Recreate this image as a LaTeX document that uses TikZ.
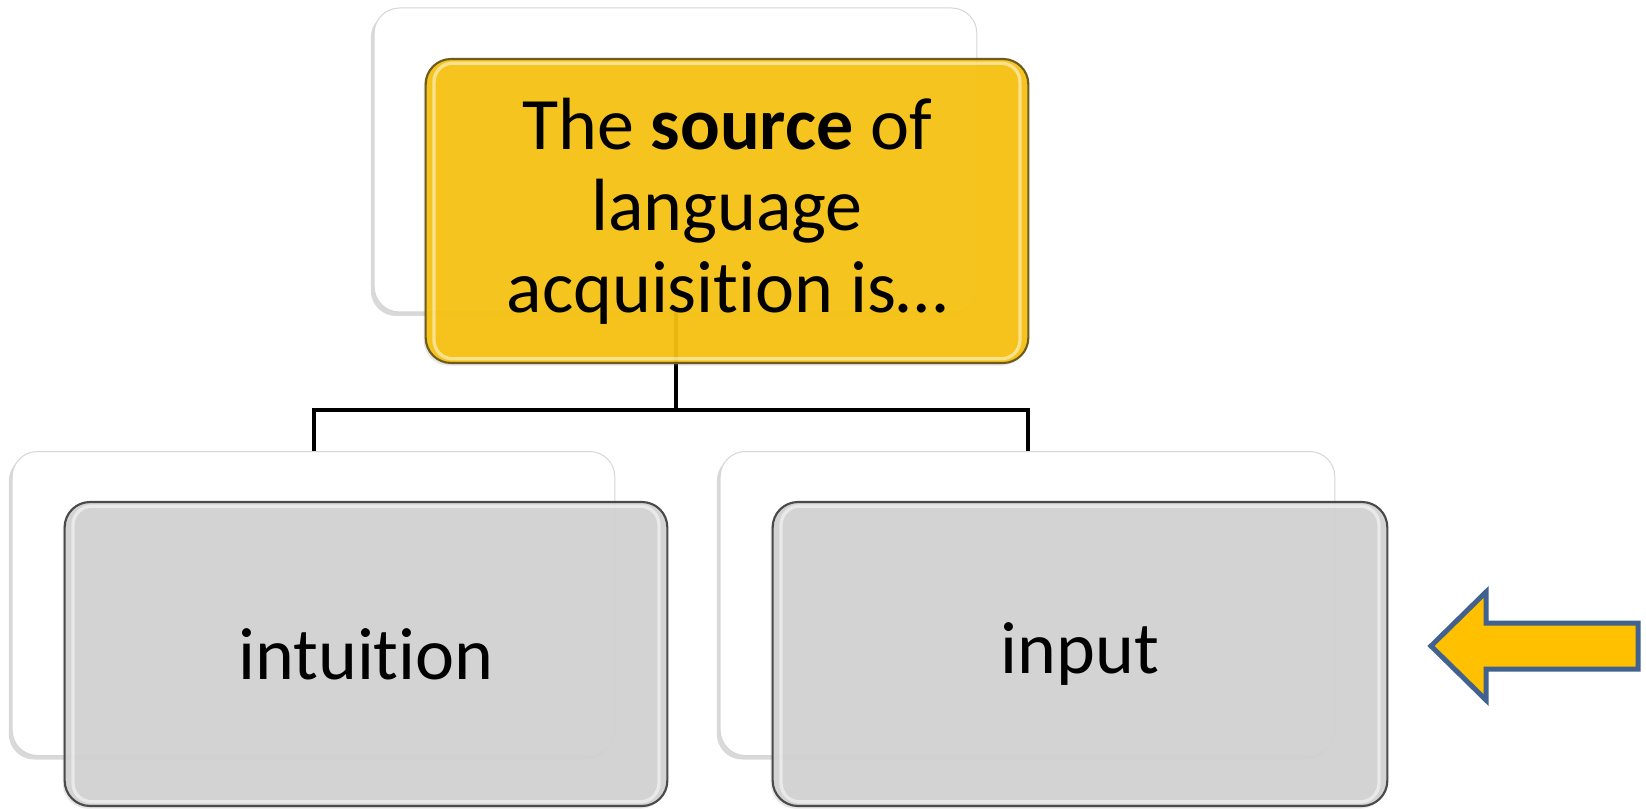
\documentclass[tikz,border=0pt]{standalone}
\usepackage{fontspec}
\setmainfont{Carlito}[Ligatures={TeX,NoCommon}]
\usetikzlibrary{shadows,calc}

\definecolor{goldfill}{HTML}{F7C20F}
\definecolor{goldline}{HTML}{6E5C1F}
\definecolor{greyfill}{HTML}{D2D2D2}
\definecolor{greyline}{HTML}{4A4A4A}
\definecolor{arrowfill}{HTML}{FFC000}
\definecolor{arrowline}{HTML}{41618F}

\tikzset{every picture/.style={line width=0.75pt}}
\tikzset{
  gloss/.style={path picture={
    \draw[white, opacity=0.5, line width=2.5pt, rounded corners=14pt]
      ($(path picture bounding box.south west)!7pt!(path picture bounding box.north east)$)
      rectangle
      ($(path picture bounding box.north east)!7pt!(path picture bounding box.south west)$);}},
  backbox/.style={draw=black!16, fill=white, rounded corners=19pt, inner sep=0pt,
    minimum width=452pt, minimum height=228pt,
    drop shadow={shadow xshift=-2.5pt, shadow yshift=-3pt, opacity=0.3}, gloss},
  frontbox/.style={draw=greyline, line width=1.6pt, fill=greyfill, rounded corners=19pt,
    inner sep=0pt, minimum width=452pt, minimum height=228pt,
    fill opacity=0.93, text opacity=1, align=center,
    font=\fontsize{55.5}{61}\selectfont,
    drop shadow={shadow xshift=-1.5pt, shadow yshift=-2pt, opacity=0.2}, gloss},
  link/.style={line width=3pt, black}
}

\begin{document}
\begin{tikzpicture}[x=0.75pt,y=0.75pt,yscale=-1,xscale=1]
\useasboundingbox (0,0) rectangle (1646,809);

% Back boxes
\draw (675.5,160) node [backbox] (srcback) {};
\draw (313.5,603.5) node [backbox] (intback) {};
\draw (1027.5,603.5) node [backbox, minimum width=461pt] (inpback) {};

% Tree connector
\draw [link] (srcback.south) -- ++(0,97) coordinate (fork) -| (intback.north);
\draw [link] (fork) -| (inpback.north);

% Front boxes
\draw (727,211) node [frontbox, draw=goldline, fill=goldfill] (src)
  {The \textbf{source} of\\language\\acquisition is…};
\draw (366,654) node [frontbox] (intu) {intuition};
\draw (1080,654) node [frontbox, minimum width=461pt] (inpt) {input};

% Block arrow
\draw [line width=3.75pt, draw=arrowline, fill=arrowfill, line join=miter]
  (1638,623) -- (1486,623) -- (1486,592) -- (1431,646) -- (1486,700)
  -- (1486,669) -- (1638,669) -- cycle;
\end{tikzpicture}
\end{document}
